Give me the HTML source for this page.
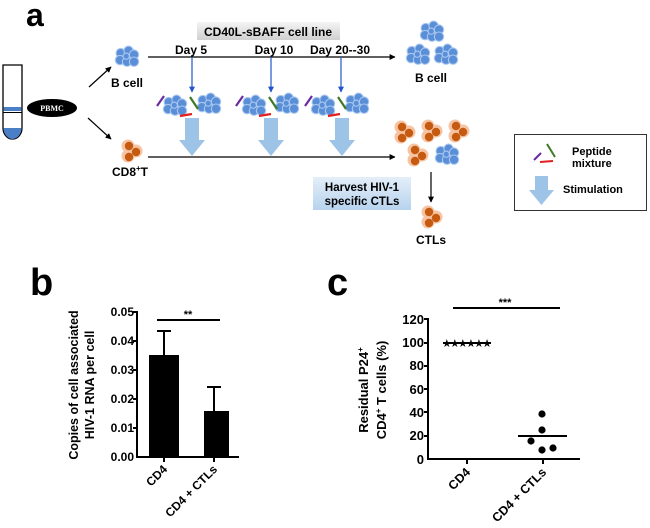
<!DOCTYPE html>
<html><head><meta charset="utf-8"><style>
html,body{margin:0;padding:0;background:#fff;}
svg{display:block;font-family:"Liberation Sans",Arial,sans-serif;}
.b{font-weight:bold;}
</style></head><body>
<svg width="650" height="528" viewBox="0 0 650 528" xmlns="http://www.w3.org/2000/svg">
<defs>
<marker id="ah" viewBox="0 0 10 10" refX="9" refY="5" markerWidth="5" markerHeight="5" orient="auto"><path d="M0,0 L10,5 L0,10 z" fill="#000"/></marker>
<marker id="ahb" viewBox="0 0 10 10" refX="9" refY="5" markerWidth="5" markerHeight="5" orient="auto"><path d="M0,0 L10,5 L0,10 z" fill="#2255cc"/></marker>
<linearGradient id="gg" x1="0" y1="0" x2="0" y2="1"><stop offset="0" stop-color="#f4f4f4"/><stop offset="1" stop-color="#d0d0d0"/></linearGradient>
<linearGradient id="hb" x1="0" y1="0" x2="0" y2="1"><stop offset="0" stop-color="#e4eef8"/><stop offset="1" stop-color="#b7d3ee"/></linearGradient>
<g id="bc0">
<g fill="#5a8fd8" stroke="#a9c8f0" stroke-width="1.4">
<circle cx="-8" cy="-5" r="6"/><circle cx="2" cy="-8" r="6"/><circle cx="9" cy="-3" r="6"/>
<circle cx="-9" cy="4" r="6"/><circle cx="0" cy="6" r="6"/><circle cx="9" cy="6" r="6"/><circle cx="-1" cy="-1" r="4"/>
</g></g>
<g id="bc"><use href="#bc0" transform="scale(0.78)"/></g>
<g id="oc">
<circle cx="-4" cy="-5" r="6.5" fill="#f6c3a3"/><circle cx="4" cy="0" r="6.5" fill="#f6c3a3"/><circle cx="-4" cy="5" r="6.5" fill="#f6c3a3"/>
<circle cx="-3" cy="-5" r="4.2" fill="#c55a11"/><circle cx="4" cy="1" r="4.2" fill="#c55a11"/><circle cx="-3" cy="6" r="4.2" fill="#c55a11"/>
</g>
<g id="big"><path d="M-7,0 H7 V22 H13 L0,38 L-13,22 H-7 Z" fill="#9dc3e6"/></g>
<g id="pep">
<line x1="-19" y1="0" x2="-12" y2="-10" stroke="#6a2aa0" stroke-width="2.2"/>
<line x1="14" y1="-9" x2="22" y2="3" stroke="#3e7a26" stroke-width="2.2"/>
<line x1="4" y1="10" x2="16" y2="8" stroke="#e32020" stroke-width="2.2"/>
</g>
</defs>

<text x="26" y="26" class="b" font-size="32">a</text>

<path d="M3,65 H22 V128 A9.5,11 0 0 1 3,128 Z" fill="#fff" stroke="#000" stroke-width="1.3"/>
<path d="M3.6,128 H21.4 A8.9,11 0 0 1 3.6,128 Z" fill="#4a7fc8"/>
<rect x="3.6" y="107" width="17.8" height="4" fill="#4a7fc8"/>
<line x1="3" y1="112.5" x2="22" y2="112.5" stroke="#000" stroke-width="1"/>
<ellipse cx="52" cy="108" rx="25" ry="9" fill="#000"/>
<text x="52" y="111" text-anchor="middle" fill="#fff" font-family="Liberation Serif,serif" font-weight="bold" font-size="8">PBMC</text>
<line x1="89" y1="87" x2="111" y2="67" stroke="#000" stroke-width="1.2" marker-end="url(#ah)"/>
<line x1="88" y1="118" x2="111" y2="139" stroke="#000" stroke-width="1.2" marker-end="url(#ah)"/>

<use href="#bc" x="127" y="57"/>
<text x="127" y="87" text-anchor="middle" class="b" font-size="12">B cell</text>
<use href="#oc" x="132" y="151"/>
<text x="130" y="176" text-anchor="middle" class="b" font-size="12">CD8<tspan font-size="8" dy="-5">+</tspan><tspan dy="5">T</tspan></text>

<rect x="197" y="22" width="143" height="18" fill="url(#gg)"/>
<text x="268" y="36" text-anchor="middle" class="b" font-size="12">CD40L-sBAFF cell line</text>
<text x="191" y="54" text-anchor="middle" class="b" font-size="12">Day 5</text>
<text x="274" y="54" text-anchor="middle" class="b" font-size="12">Day 10</text>
<text x="340" y="54" text-anchor="middle" class="b" font-size="12">Day 20--30</text>
<line x1="148" y1="57" x2="395" y2="57" stroke="#000" stroke-width="1.2" marker-end="url(#ah)"/>
<line x1="148" y1="157" x2="395" y2="157" stroke="#000" stroke-width="1.2" marker-end="url(#ah)"/>

<g stroke="#2255cc" stroke-width="1.2">
<line x1="192" y1="57" x2="192" y2="92" marker-end="url(#ahb)"/>
<line x1="271" y1="57" x2="271" y2="92" marker-end="url(#ahb)"/>
<line x1="341" y1="57" x2="341" y2="92" marker-end="url(#ahb)"/>
</g>
<use href="#bc" x="175" y="106"/><use href="#bc" x="209" y="104"/><use href="#pep" x="176" y="106"/>
<use href="#bc" x="254" y="106"/><use href="#bc" x="287" y="104"/><use href="#pep" x="255" y="106"/>
<use href="#bc" x="323" y="106"/><use href="#bc" x="357" y="104"/><use href="#pep" x="324" y="106"/>
<use href="#big" x="192" y="118"/><use href="#big" x="271" y="118"/><use href="#big" x="342" y="118"/>

<use href="#bc" x="432" y="32"/><use href="#bc" x="418" y="55"/><use href="#bc" x="446" y="55"/>
<text x="431" y="82" text-anchor="middle" class="b" font-size="12">B cell</text>
<use href="#oc" x="405" y="132"/><use href="#oc" x="432" y="131"/><use href="#oc" x="459" y="131"/>
<use href="#oc" x="418" y="155"/><use href="#bc" x="447" y="155"/>
<line x1="431" y1="172" x2="431" y2="202" stroke="#000" stroke-width="1.2" marker-end="url(#ah)"/>
<use href="#oc" x="432" y="217"/>
<text x="431" y="244" text-anchor="middle" class="b" font-size="12">CTLs</text>

<rect x="313" y="177" width="98" height="33" fill="url(#hb)"/>
<text x="362" y="191" text-anchor="middle" class="b" font-size="11.5">Harvest HIV-1</text>
<text x="362" y="205" text-anchor="middle" class="b" font-size="11.5">specific CTLs</text>

<rect x="514.5" y="134.5" width="132" height="76" fill="#fff" stroke="#333" stroke-width="1"/>
<line x1="534" y1="160" x2="541" y2="153" stroke="#6a2aa0" stroke-width="2"/>
<line x1="547" y1="144" x2="555" y2="157" stroke="#3e7a26" stroke-width="2"/>
<line x1="540" y1="162" x2="553" y2="161" stroke="#e32020" stroke-width="2"/>
<text x="572" y="155" class="b" font-size="11">Peptide</text>
<text x="572" y="167" class="b" font-size="11">mixture</text>
<path d="M535,176 H548 V190 H554 L541.5,205 L529,190 H535 Z" fill="#9dc3e6"/>
<text x="563" y="193" class="b" font-size="11">Stimulation</text>

<text x="30" y="295" class="b" font-size="38">b</text>
<g font-size="12" class="b" text-anchor="end">
<text x="134" y="316">0.05</text><text x="134" y="345">0.04</text><text x="134" y="374">0.03</text>
<text x="134" y="403">0.02</text><text x="134" y="432">0.01</text><text x="134" y="461">0.00</text>
</g>
<g stroke="#000" stroke-width="2">
<line x1="137" y1="311" x2="137" y2="458"/><line x1="136" y1="457" x2="239" y2="457"/>
<line x1="133" y1="312" x2="137" y2="312"/><line x1="133" y1="341" x2="137" y2="341"/><line x1="133" y1="370" x2="137" y2="370"/>
<line x1="133" y1="399" x2="137" y2="399"/><line x1="133" y1="428" x2="137" y2="428"/>
<line x1="164" y1="457" x2="164" y2="462"/><line x1="214" y1="457" x2="214" y2="462"/>
<line x1="164" y1="355" x2="164" y2="331"/><line x1="157" y1="331" x2="171" y2="331"/>
<line x1="214" y1="411" x2="214" y2="387"/><line x1="207" y1="387" x2="221" y2="387"/>
<line x1="157" y1="320" x2="220" y2="320"/>
</g>
<rect x="149" y="355" width="30" height="102" fill="#000"/>
<rect x="204" y="411" width="25" height="46" fill="#000"/>
<text x="188" y="318" text-anchor="middle" class="b" font-size="11">**</text>
<text transform="translate(78,385) rotate(-90)" text-anchor="middle" class="b" font-size="12.5">Copies of cell associated</text>
<text transform="translate(94,385) rotate(-90)" text-anchor="middle" class="b" font-size="12.5">HIV-1 RNA per cell</text>
<text transform="translate(168,470) rotate(-45)" text-anchor="end" class="b" font-size="12">CD4</text>
<text transform="translate(218,470) rotate(-45)" text-anchor="end" class="b" font-size="12">CD4 + CTLs</text>

<text x="327" y="295" class="b" font-size="38">c</text>
<g font-size="13" class="b" text-anchor="end">
<text x="424" y="324">120</text><text x="424" y="347">100</text><text x="424" y="370">80</text>
<text x="424" y="394">60</text><text x="424" y="417">40</text><text x="424" y="440">20</text><text x="424" y="464">0</text>
</g>
<g stroke="#000" stroke-width="2">
<line x1="428" y1="318" x2="428" y2="460"/><line x1="427" y1="459" x2="580" y2="459"/>
<line x1="424" y1="319" x2="428" y2="319"/><line x1="424" y1="343" x2="428" y2="343"/><line x1="424" y1="366" x2="428" y2="366"/>
<line x1="424" y1="389" x2="428" y2="389"/><line x1="424" y1="412" x2="428" y2="412"/><line x1="424" y1="436" x2="428" y2="436"/>
<line x1="467" y1="459" x2="467" y2="464"/><line x1="543" y1="459" x2="543" y2="464"/>
<line x1="443" y1="343" x2="491" y2="343"/><line x1="518" y1="436" x2="567" y2="436"/>
<line x1="453" y1="308" x2="560" y2="308"/>
</g>
<text x="466" y="347" text-anchor="middle" font-size="11" letter-spacing="-1.8">★★★★★★</text>
<g fill="#000"><circle cx="542" cy="414" r="3.6"/><circle cx="542" cy="430" r="3.6"/><circle cx="531" cy="441" r="3.6"/><circle cx="553" cy="448" r="3.6"/><circle cx="542" cy="450" r="3.6"/></g>
<text x="505" y="306" text-anchor="middle" class="b" font-size="11">***</text>
<text transform="translate(368,390) rotate(-90)" text-anchor="middle" class="b" font-size="13">Residual P24<tspan font-size="8" dy="-5">+</tspan></text>
<text transform="translate(386,390) rotate(-90)" text-anchor="middle" class="b" font-size="13">CD4<tspan font-size="8" dy="-5">+</tspan><tspan dy="5"> T cells (%)</tspan></text>
<text transform="translate(471,473) rotate(-45)" text-anchor="end" class="b" font-size="12.5">CD4</text>
<text transform="translate(547,473) rotate(-45)" text-anchor="end" class="b" font-size="12.5">CD4 + CTLs</text>
</svg>
</body></html>
